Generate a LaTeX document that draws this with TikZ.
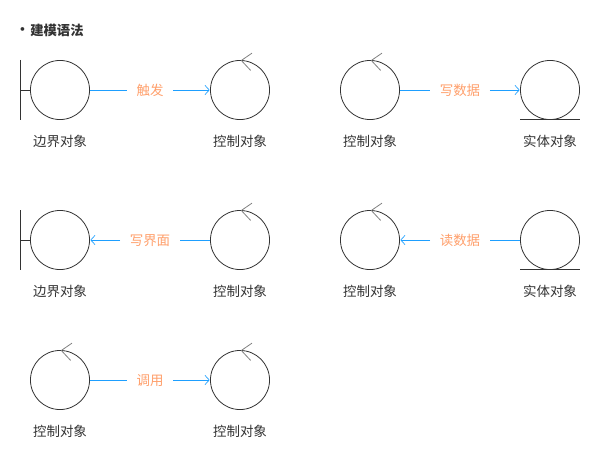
\documentclass[tikz,border=0pt]{standalone}
\usepackage{fontspec}
\setmainfont{Noto Sans CJK SC}
\usetikzlibrary{arrows.meta}
\definecolor{ink}{HTML}{333333}
\definecolor{flowblue}{HTML}{1E9FFF}
\definecolor{laborange}{HTML}{FF9F6B}
\begin{document}
\begin{tikzpicture}[
        x=0.75pt,y=-0.75pt,
        obj/.style={draw=ink,circle,minimum size=44.3pt,inner sep=0pt,outer sep=0pt,line width=0.6pt},
        capt/.style={text=ink,font=\fontsize{10.1pt}{12pt}\selectfont,inner sep=0pt},
        msg/.style={text=laborange,font=\fontsize{10.1pt}{12pt}\selectfont,inner ysep=0pt,inner xsep=7.2pt,outer sep=0pt},
        flow/.style={draw=flowblue,line width=0.6pt},
        flowto/.style={flow,shorten >=0.6pt,-{Straight Barb[length=3.2pt,width=7pt,line width=0.5pt]}},
        objline/.style={draw=ink,line width=0.6pt},
        objhead/.style={draw=black!50,line width=0.6pt},
        heading/.style={text=ink,font=\fontsize{10pt}{12pt}\selectfont\bfseries,inner sep=0pt}
      ]
      \useasboundingbox (0,0) rectangle (610,460);
      \node[heading] (dot) at (22.5,31.5) {•};
      \node[heading,anchor=west] (title) at (30,30) {建模语法};
      % row 1
      \node[obj] (bnd1) at (60,90) {};
      \node[obj] (ctl1) at (240,90) {};
      \node[obj] (ctl2) at (370,90) {};
      \node[obj] (ent1) at (550,90) {};
      % row 2
      \node[obj] (bnd2) at (60,240) {};
      \node[obj] (ctl3) at (240,240) {};
      \node[obj] (ctl4) at (370,240) {};
      \node[obj] (ent2) at (550,240) {};
      % row 3
      \node[obj] (ctl5) at (60,380) {};
      \node[obj] (ctl6) at (240,380) {};
      % captions
      \node[capt] (capa) at (60,141.5) {边界对象};
      \node[capt] (capb) at (240,141.5) {控制对象};
      \node[capt] (capc) at (370,141.5) {控制对象};
      \node[capt] (capd) at (550,141.5) {实体对象};
      \node[capt] (cape) at (60,291.5) {边界对象};
      \node[capt] (capf) at (240,291.5) {控制对象};
      \node[capt] (capg) at (370,291.5) {控制对象};
      \node[capt] (caph) at (550,291.5) {实体对象};
      \node[capt] (capi) at (60,431.5) {控制对象};
      \node[capt] (capj) at (240,431.5) {控制对象};
      % messages
      \node[msg] (trig) at (150,90.6) {触发};
      \node[msg] (wdat) at (460,90.6) {写数据};
      \node[msg] (wscr) at (150,240.6) {写界面};
      \node[msg] (rdat) at (460,240.6) {读数据};
      \node[msg] (call) at (150,380.6) {调用};
      \draw[flow] (bnd1) -- (bnd1 -| trig.west);
      \draw[flowto] (ctl1 -| trig.east) -- (ctl1);
      \draw[flow] (ctl2) -- (ctl2 -| wdat.west);
      \draw[flowto] (ent1 -| wdat.east) -- (ent1);
      \draw[flow] (ctl3) -- (ctl3 -| wscr.east);
      \draw[flowto] (bnd2 -| wscr.west) -- (bnd2);
      \draw[flow] (ent2) -- (ent2 -| rdat.east);
      \draw[flowto] (ctl4 -| rdat.west) -- (ctl4);
      \draw[flow] (ctl5) -- (ctl5 -| call.west);
      \draw[flowto] (ctl6 -| call.east) -- (ctl6);
      % object marks
      \foreach \b in {bnd1,bnd2} {
        \draw[objline] ([xshift=-7.2pt,yshift=22.5pt]\b.west) -- ([xshift=-7.2pt,yshift=-22.5pt]\b.west);
        \draw[objline] ([xshift=-7.2pt]\b.west) -- (\b.west);
      }
      \foreach \e in {ent1,ent2} {
        \draw[objline] ([xshift=-22.5pt]\e.south) -- ([xshift=22.5pt]\e.south);
      }
      \foreach \c in {ctl1,ctl2,ctl3,ctl4,ctl5,ctl6} {
        \draw[objhead] ([xshift=9pt,yshift=5.5pt]\c.north) -- ([xshift=1pt]\c.north) -- ([xshift=8pt,yshift=-7.5pt]\c.north);
      }
    \end{tikzpicture}
\end{document}
